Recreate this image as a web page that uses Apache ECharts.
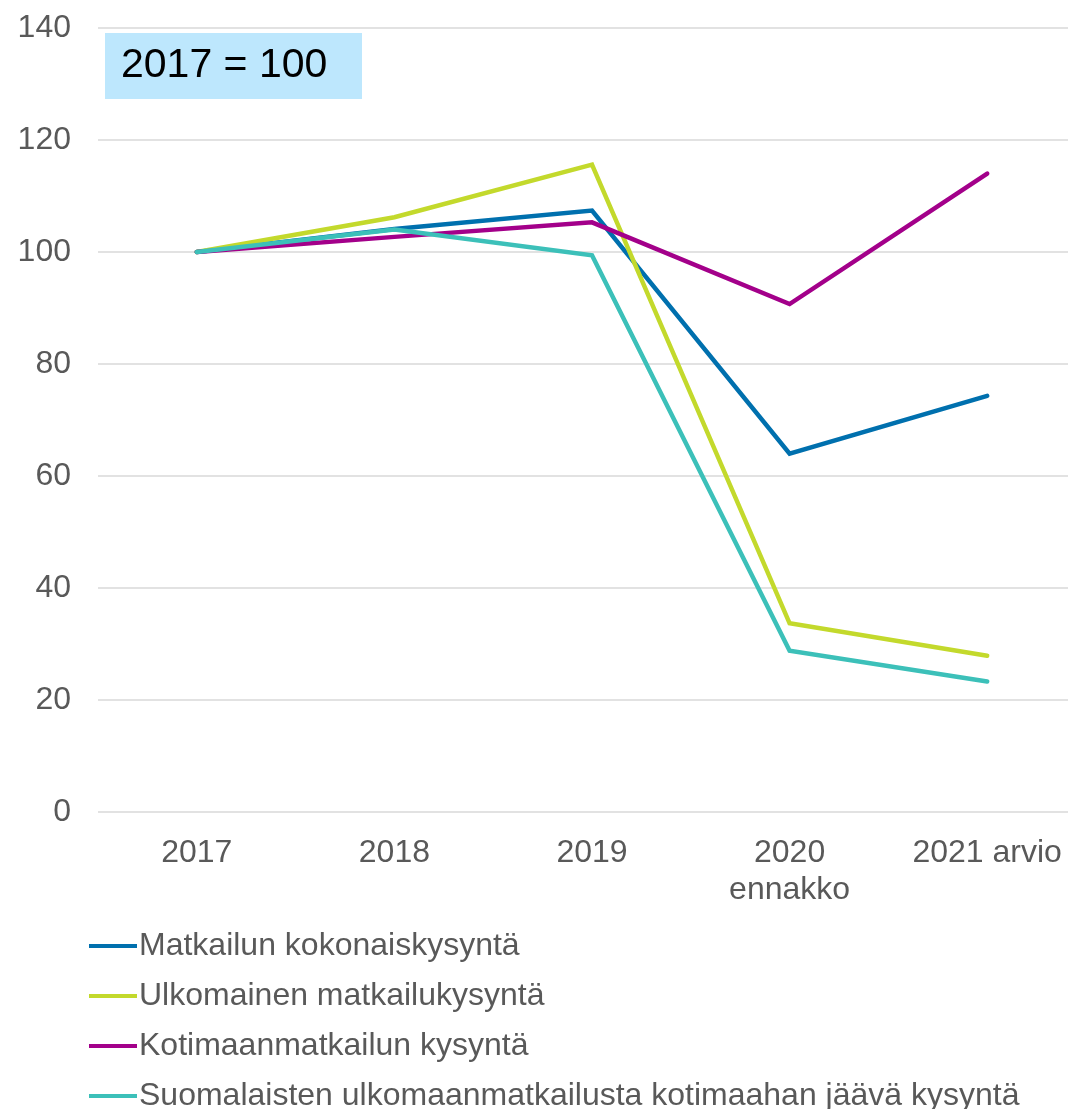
<!DOCTYPE html>
<html>
<head>
<meta charset="utf-8">
<script src="https://cdn.jsdelivr.net/npm/echarts@6/dist/echarts.min.js"></script>
<style>
html,body{margin:0;padding:0;background:#fff;}
#chart{width:1068px;height:1109px;}
</style>
</head>
<body>
<div id="chart"></div>
<script>
const categories = ['2017', '2018', '2019', '2020\nennakko', '2021 arvio'];
const seriesNames = [
  'Matkailun kokonaiskysyntä',
  'Ulkomainen matkailukysyntä',
  'Kotimaanmatkailun kysyntä',
  'Suomalaisten ulkomaanmatkailusta kotimaahan jäävä kysyntä'
];
const kokonais = [100, 104.1, 107.4, 64.0, 74.3];
const ulkomainen = [100, 106.2, 115.6, 33.7, 27.9];
const kotimaan = [100, 102.7, 105.3, 90.7, 114.0];
const suomalaisten = [100, 104.0, 99.4, 28.8, 23.3];
const yTicks = [0, 20, 40, 60, 80, 100, 120, 140];
const colors = ['#0070AE', '#C3D92C', '#A3008A', '#3CC0B9'];
const note = '2017 = 100';

const chart = echarts.init(document.getElementById('chart'));
const values = [kokonais, ulkomainen, kotimaan, suomalaisten];
const font = 'Liberation Sans, Arial, sans-serif';

chart.setOption({
  backgroundColor: '#ffffff',
  animation: false,
  color: colors,
  grid: { left: 98, width: 988, top: 28, height: 784, containLabel: false, outerBoundsMode: 'none' },
  xAxis: {
    type: 'category',
    data: categories,
    boundaryGap: true,
    axisLine: { show: false },
    axisTick: { show: false },
    axisLabel: { color: '#595959', fontSize: 32, fontFamily: font, margin: 23, lineHeight: 37, interval: 0 }
  },
  yAxis: {
    type: 'value',
    min: yTicks[0],
    max: yTicks[yTicks.length - 1],
    interval: 20,
    axisLine: { show: false },
    axisTick: { show: false },
    axisLabel: { color: '#595959', fontSize: 32, fontFamily: font, margin: 27 },
    splitLine: { lineStyle: { color: '#D9D9D9', width: 1.5 } }
  },
  legend: {
    orient: 'vertical',
    left: 89,
    top: 930,
    height: 220,
    width: 980,
    padding: 0,
    itemGap: 18,
    itemWidth: 48,
    itemHeight: 4,
    icon: 'rect',
    textStyle: { color: '#595959', fontSize: 32, fontFamily: font, padding: [0, 0, 0, -3] },
    data: seriesNames
  },
  graphic: [
    {
      type: 'rect',
      shape: { x: 105, y: 33, width: 257, height: 66 },
      style: { fill: '#BDE7FD' },
      z: 10
    },
    {
      type: 'text',
      x: 121,
      y: 66,
      style: { text: note, fill: '#000000', font: '41px ' + font, textVerticalAlign: 'middle' },
      z: 11
    }
  ],
  series: seriesNames.map((n, i) => ({
    name: n,
    type: 'line',
    data: values[i],
    symbol: 'none',
    lineStyle: { width: 4.5, color: colors[i], cap: 'round', join: 'miter' },
    itemStyle: { color: colors[i] }
  }))
});
</script>
</body>
</html>
